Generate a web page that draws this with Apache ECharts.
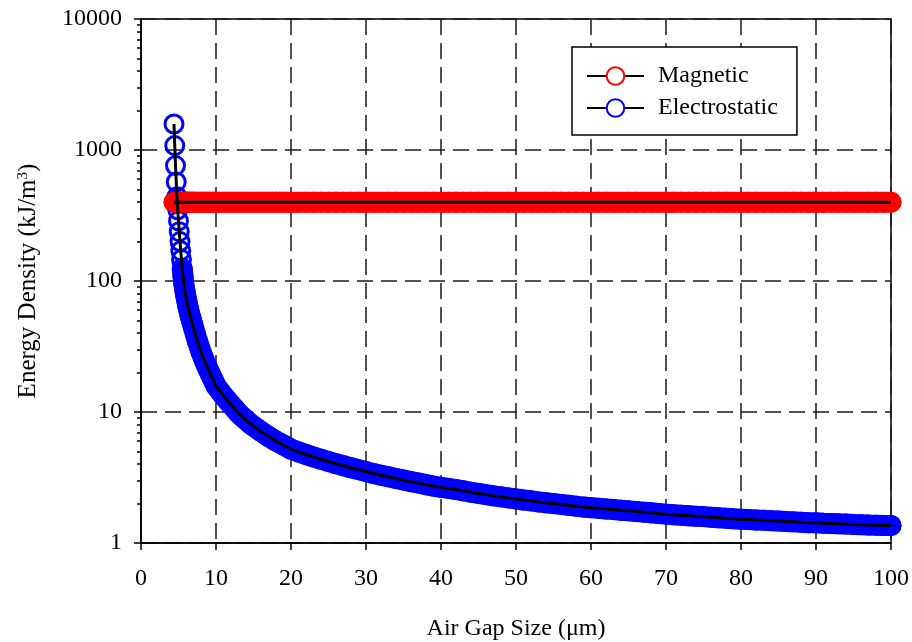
<!DOCTYPE html>
<html>
<head>
<meta charset="utf-8">
<script src="https://cdn.jsdelivr.net/npm/echarts@6/dist/echarts.min.js"></script>
<style>
  html, body { margin: 0; padding: 0; background: #fff; }
  #chart { width: 912px; height: 642px; }
</style>
</head>
<body>
<div id="chart"></div>
<script>
// Air gap sizes (µm) at which the energy densities are evaluated
const gapSizes = [
  4.4, 4.5, 4.6, 4.7, 4.8, 4.9, 5.0, 5.1, 5.2, 5.3, 5.4, 5.5, 5.6, 5.7, 5.8, 5.9,
  6.0, 6.1, 6.2, 6.3, 6.4, 6.5, 6.6, 6.7, 6.8, 6.9, 7.0,
  7.25, 7.5, 7.75, 8.0, 8.25, 8.5, 8.75, 9.0, 9.25, 9.5, 9.75, 10.0,
  10.5, 11, 11.5, 12, 12.5, 13, 13.5, 14, 14.5, 15, 15.5, 16, 16.5, 17, 17.5, 18, 18.5, 19, 19.5, 20,
  21, 22, 23, 24, 25, 26, 27, 28, 29, 30,
  31, 32, 33, 34, 35, 36, 37, 38, 39, 40,
  41, 42, 43, 44, 45, 46, 47, 48, 49, 50,
  51, 52, 53, 54, 55, 56, 57, 58, 59, 60,
  61, 62, 63, 64, 65, 66, 67, 68, 69, 70,
  71, 72, 73, 74, 75, 76, 77, 78, 79, 80,
  81, 82, 83, 84, 85, 86, 87, 88, 89, 90,
  91, 92, 93, 94, 95, 96, 97, 98, 99, 100
];

// Electrostatic energy density (kJ/m^3) at each gap size
const electrostaticDensity = [
  1580, 1080, 760, 570, 440, 350, 288, 238, 200, 170, 146, 125, 108, 96, 88, 81.3,
  75.5, 70.5, 66.1, 62.2, 58.9, 55.8, 53.1, 50.7, 48.5, 46.4, 44.2,
  39.4, 35.1, 31.8, 28.8, 26.4, 24.3, 22.5, 20.9, 19.5, 18.2, 17.0, 15.8,
  14.5, 13.3, 12.3, 11.4, 10.6, 9.8, 9.2, 8.7, 8.2, 7.8, 7.45, 7.1, 6.8, 6.5, 6.25, 6.0, 5.8, 5.6, 5.4, 5.2,
  4.96, 4.74, 4.54, 4.36, 4.19, 4.03, 3.89, 3.75, 3.63, 3.51,
  3.39, 3.29, 3.20, 3.11, 3.02, 2.94, 2.87, 2.79, 2.72, 2.66,
  2.61, 2.56, 2.50, 2.44, 2.39, 2.34, 2.29, 2.25, 2.21, 2.17,
  2.13, 2.10, 2.06, 2.03, 2.00, 1.97, 1.94, 1.91, 1.88, 1.86,
  1.84, 1.82, 1.80, 1.78, 1.76, 1.74, 1.72, 1.70, 1.68, 1.66,
  1.645, 1.63, 1.615, 1.60, 1.59, 1.575, 1.56, 1.545, 1.53, 1.52,
  1.51, 1.50, 1.49, 1.48, 1.47, 1.46, 1.45, 1.44, 1.43, 1.425,
  1.415, 1.41, 1.40, 1.395, 1.385, 1.38, 1.37, 1.365, 1.36, 1.36
];

// Magnetic energy density (kJ/m^3), independent of the gap
const magneticDensity = 400;

// Y-axis decades and minor subdivisions
const yDecades = [1, 10, 100, 1000, 10000];
const minorSteps = [2, 3, 4, 5, 6, 7, 8, 9];

const FONT = '"Liberation Serif", "Times New Roman", serif';
const RED = '#ff0000';
const BLUE = '#0000ff';
const MARKER = 18;        // ring diameter (centre of stroke)
const MARKER_STROKE = 3;
const BAND = MARKER + MARKER_STROKE;   // envelope of densely packed rings

const electroPoints = gapSizes.map((g, i) => [g, electrostaticDensity[i]]);
const magneticPoints = gapSizes.map(g => [g, magneticDensity]);
// where the rings merge into a continuous band
const denseFrom = gapSizes.indexOf(5.5);
const electroDense = electroPoints.slice(denseFrom);

// minor tick positions on a log10 companion axis
const minorTickPositions = [];
for (let d = 0; d < yDecades.length - 1; d++) {
  minorSteps.forEach(k => minorTickPositions.push(Math.log10(yDecades[d] * k)));
}

const chart = echarts.init(document.getElementById('chart'), null, { renderer: 'canvas' });

const dash = [16, 8];

function ringSeries(name, data, color) {
  return {
    name, type: 'scatter', data,
    symbol: 'circle', symbolSize: MARKER,
    itemStyle: { color: 'transparent', borderColor: color, borderWidth: MARKER_STROKE, opacity: 1 },
    emphasis: { disabled: true }, silent: true, clip: false
  };
}
function bandSeries(name, data, color) {
  return {
    name, type: 'line', data,
    symbol: 'none', showSymbol: false,
    lineStyle: { color, width: BAND, cap: 'round', join: 'round' },
    emphasis: { disabled: true }, silent: true, clip: false
  };
}
function traceSeries(name, data, color) {
  return {
    name, type: 'line', data,
    symbol: 'emptyCircle', showSymbol: false,
    itemStyle: { color },
    lineStyle: { color: '#000', width: 3 },
    emphasis: { disabled: true }, silent: true
  };
}

chart.setOption({
  animation: false,
  backgroundColor: '#fff',
  grid: {
    left: 141, right: 21, top: 19, bottom: 99,
    outerBoundsMode: 'none',
    containLabel: false,
    show: true, borderColor: '#000', borderWidth: 1.5, backgroundColor: 'transparent'
  },
  legend: {
    orient: 'vertical',
    left: 572, top: 47,
    padding: [17, 19, 15, 14],
    backgroundColor: '#fff',
    borderColor: '#000',
    borderWidth: 1.5,
    borderRadius: 0,
    itemWidth: 57,
    itemHeight: 22,
    itemGap: 8,
    textStyle: { fontFamily: FONT, fontSize: 24, color: '#000', lineHeight: 22, padding: [0, 0, 0, 9] },
    data: ['Magnetic', 'Electrostatic'],
    selectedMode: false
  },
  xAxis: {
    type: 'value',
    min: 0, max: 100, interval: 10,
    name: 'Air Gap Size (\u03bcm)',
    nameLocation: 'middle',
    nameGap: 74,
    nameTextStyle: { fontFamily: FONT, fontSize: 24, color: '#000' },
    axisLine: { onZero: false, lineStyle: { color: '#000', width: 1.5 } },
    axisTick: { show: true, inside: false, length: 7, lineStyle: { color: '#000', width: 1.5 } },
    axisLabel: { fontFamily: FONT, fontSize: 24, color: '#000', margin: 24 },
    splitLine: { show: true, lineStyle: { color: '#1a1a1a', width: 1.5, type: dash } }
  },
  yAxis: [
    {
      type: 'log',
      logBase: 10,
      min: 1, max: 10000,
      name: 'Energy Density (kJ/m{sup|3})',
      nameLocation: 'middle',
      nameGap: 100,
      nameRotate: 90,
      nameTextStyle: {
        fontFamily: FONT, fontSize: 25, color: '#000',
        rich: {
          sup: { fontFamily: FONT, fontSize: 15, color: '#000', verticalAlign: 'top', lineHeight: 16 }
        }
      },
      axisLine: { lineStyle: { color: '#000', width: 1.5 } },
      axisTick: { show: true, inside: false, length: 7, lineStyle: { color: '#000', width: 1.5 } },
      minorTick: { show: false },
      axisLabel: {
        fontFamily: FONT, fontSize: 24, color: '#000', margin: 19,
        formatter: v => String(Math.round(v))
      },
      splitLine: { show: true, lineStyle: { color: '#1a1a1a', width: 1.5, type: dash } }
    },
    {
      type: 'value',
      min: 0, max: 4,
      position: 'left',
      axisLine: { show: false },
      axisLabel: { show: false },
      splitLine: { show: false },
      axisTick: {
        show: true, inside: false, length: 4,
        customValues: minorTickPositions,
        lineStyle: { color: '#000', width: 1.5 }
      }
    }
  ],
  series: [
    bandSeries('Magnetic band', magneticPoints, RED),
    ringSeries('Magnetic markers', magneticPoints, RED),
    traceSeries('Magnetic', magneticPoints, RED),
    bandSeries('Electrostatic band', electroDense, BLUE),
    ringSeries('Electrostatic markers', electroPoints, BLUE),
    traceSeries('Electrostatic', electroPoints, BLUE)
  ]
});
</script>
</body>
</html>
